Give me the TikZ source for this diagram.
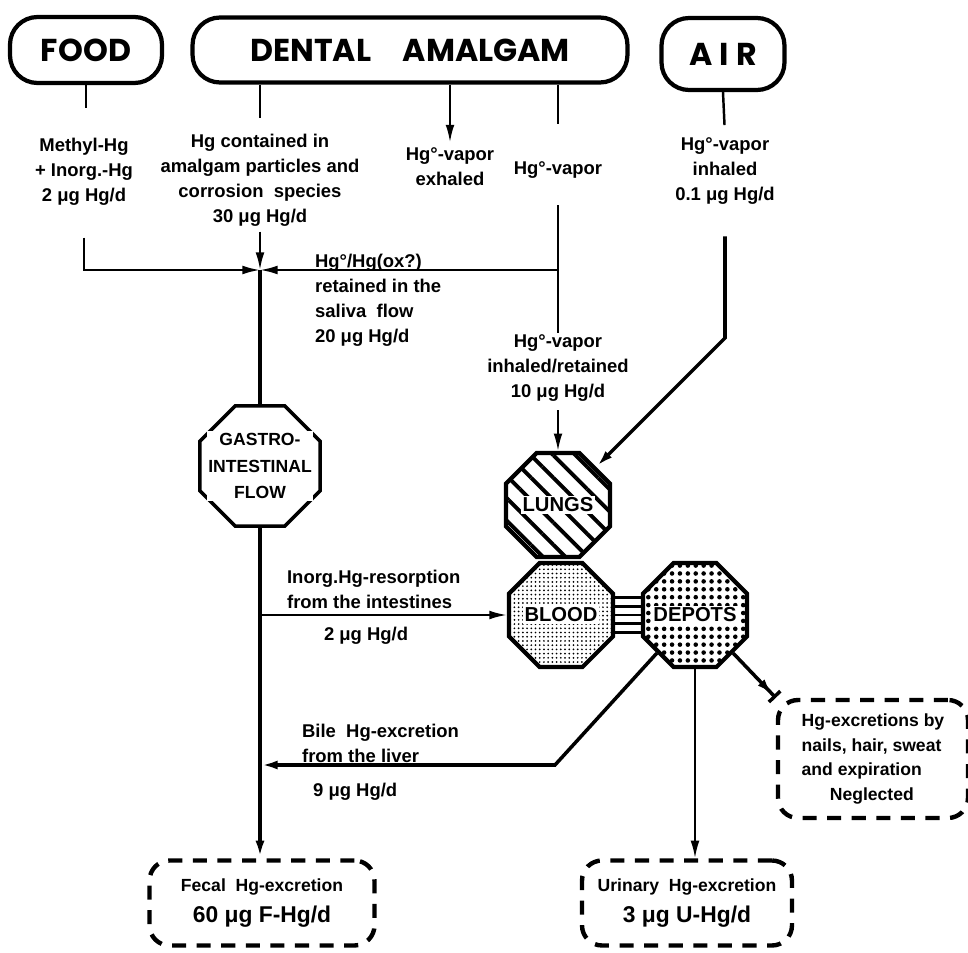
\documentclass[tikz,border=0pt]{standalone}
\usepackage{fontspec}
\setmainfont{Liberation Sans}
\newfontfamily\titlefont{Poppins}
\usepackage{tikz}
\usetikzlibrary{arrows.meta,shapes.geometric,patterns.meta,positioning}
\tikzset{
      mytitleblock/.style 2 args={
        draw,
        line width=2.4pt,
        rounded corners=0.55cm,
        minimum width=#1,
        minimum height=#2,
        font=\titlefont\bfseries\fontsize{18}{20}\selectfont
      },
      mytext/.style={
        align=center,
        inner sep=1pt,
        font=\bfseries\fontsize{10.5}{14.2}\selectfont
      },
      myoctblock/.style={
        draw,
        line width=2.4pt,
        regular polygon,
        regular polygon sides=8,
        minimum size=#1,
        inner sep=0pt
      },
      myocttext/.style={
        fill=white,
        inner sep=1pt,
        font=\bfseries\fontsize{11.5}{14}\selectfont
      },
      mydashblock/.style 2 args={
        draw,
        line width=2.5pt,
        dash pattern=on 8pt off 6pt,
        rounded corners=0.4cm,
        minimum width=#1,
        minimum height=#2,
        align=center,
        font=\bfseries\fontsize{10}{14.2}\selectfont
      },
      myarrow/.style={
        -{Latex[length=10pt,width=5pt]},
        line width=1.2pt
      },
    }
\begin{document}
\begin{tikzpicture}[x=0.02cm,y=-0.02cm]
            \useasboundingbox (0,0) rectangle (968,953);

            %Sources
            \node[mytitleblock={3.04cm}{1.32cm}] (food) at (86,50) {FOOD};
            \node[mytitleblock={8.7cm}{1.3cm}] (amalgam) at (410,50) {DENTAL\hspace{1em}AMALGAM};
            \node[mytitleblock={2.46cm}{1.44cm}] (air) at (723,54) {A\hspace{4pt}I\hspace{4pt}R};

            %Texts under the sources
            \node[mytext] (foodtxt) at (84,172) {Methyl-Hg\\+ Inorg.-Hg\\2 μg Hg/d};
            \node[mytext] (amalgamtxt) at (260,180) {Hg contained in\\amalgam particles and\\corrosion\ \ species\\30 μg Hg/d};
            \node[mytext] (exhaledtxt) at (450,167) {Hg°-vapor\\exhaled};
            \node[mytext] (vaportxt) at (558,170) {Hg°-vapor};
            \node[mytext] (airtxt) at (725,171) {Hg°-vapor\\inhaled\\0.1 μg Hg/d};
            \node[mytext,align=left,anchor=north west] (salivatxt) at (313,252) {Hg°/Hg(ox?)\\retained in the\\saliva\ \ flow\\20 μg Hg/d};
            \node[mytext] (retainedtxt) at (558,368) {Hg°-vapor\\inhaled/retained\\10 μg Hg/d};

            %Organs
            \node[myoctblock=2.6cm,line width=2pt] (gastro) at (260,466) {};
            \node[myocttext,align=center,font=\bfseries\fontsize{10}{15.3}\selectfont] (gastrotxt) at (gastro) {GASTRO-\\INTESTINAL\\FLOW};
            \node[myoctblock=2.25cm,pattern={Lines[angle=-45,distance=9pt,line width=2.2pt]}] (lungs) at (558,505) {};
            \node[myocttext] (lungstxt) at (lungs) {LUNGS};
            \node[myoctblock=2.25cm,pattern={Dots[radius=0.55pt,distance=2.4pt]}] (blood) at (561,615) {};
            \node[myocttext] (bloodtxt) at (blood) {BLOOD};
            \node[myoctblock=2.25cm,pattern={Dots[radius=1.3pt,distance=4.5pt]}] (depots) at (695,615) {};
            \node[myocttext] (depotstxt) at (depots) {DEPOTS};

            %Flow texts
            \node[mytext,align=left,anchor=north west] (resorptxt) at (285,568) {Inorg.Hg-resorption\\from the intestines\\[4pt]\hspace*{2em}2 μg Hg/d};
            \node[mytext,align=left,anchor=north west] (biletxt) at (300,722) {Bile\ \ Hg-excretion\\from the liver\\[5pt]\hspace*{0.6em}9 μg Hg/d};

            %Excretions
            \node[mydashblock={4.5cm}{1.7cm}] (fecal) at (262,903) {Fecal\ \ Hg-excretion\\[3pt]{\fontsize{13}{15}\selectfont 60 μg F-Hg/d}};
            \node[mydashblock={4.2cm}{1.7cm}] (urinary) at (687,903) {Urinary\ \ Hg-excretion\\[3pt]{\fontsize{13}{15}\selectfont 3 μg U-Hg/d}};
            \node[mydashblock={3.8cm}{2.36cm},align=left] (neglected) at (873,759) {Hg-excretions\ by\\nails, hair, sweat\\and expiration\\\hspace*{1.6em}Neglected};

            \coordinate (jn) at (260,270);
            \coordinate (airbend) at (725,338);
            \coordinate (bilebend) at (555,765);

            \draw [line width=1.4pt, shorten >=16pt] (food.south) -- (food.south |- foodtxt.north);
            \draw [line width=1.4pt, shorten >=8pt] (amalgamtxt.north |- amalgam.south) -- (amalgamtxt.north);
            \draw [myarrow, shorten >=2pt] (exhaledtxt.north |- amalgam.south) -- (exhaledtxt.north);
            \draw [line width=1.4pt, shorten >=20pt] (vaportxt.north |- amalgam.south) -- (vaportxt.north);
            \draw [line width=1.4pt, shorten >=6pt] (air.south) -- (airtxt.north);
            \draw [myarrow, shorten <=17pt] (foodtxt.south) -- (foodtxt.south |- jn) -- (jn);
            \draw [myarrow, shorten <=2pt] (amalgamtxt.south) -- (jn);
            \draw [line width=1.2pt, shorten <=14pt] (vaportxt.south) -- (retainedtxt.north);
            \draw [myarrow] (vaportxt.south |- jn) -- (jn);
            \draw [line width=2.2pt] (jn) -- (gastro.north);
            \draw [myarrow, shorten <=4pt] (retainedtxt.south) -- (lungs.north);
            \draw [myarrow, line width=2pt, shorten <=17pt] (airtxt.south) -- (airbend) -- (lungs.45);
            \foreach \d in {-10,-5,0,5,10}
              \draw [line width=1.6pt] ([yshift=\d pt]blood.east) -- ([yshift=\d pt]depots.west);
            \draw [myarrow] (gastro.south |- blood.west) -- (blood.west);
            \draw [myarrow, line width=2.2pt] (gastro.south) -- (gastro.south |- fecal.north);
            \draw [myarrow, line width=2pt] (depots.225) -- (bilebend) -- (gastro.south |- bilebend);
            \draw [myarrow] (depots.south) -- (depots.south |- urinary.north);
            \draw [-{Latex[length=10pt,width=5pt] Bar[width=9pt,line width=2pt]}, line width=2pt] (depots.315) -- (neglected.north west);

          \end{tikzpicture}
\end{document}
